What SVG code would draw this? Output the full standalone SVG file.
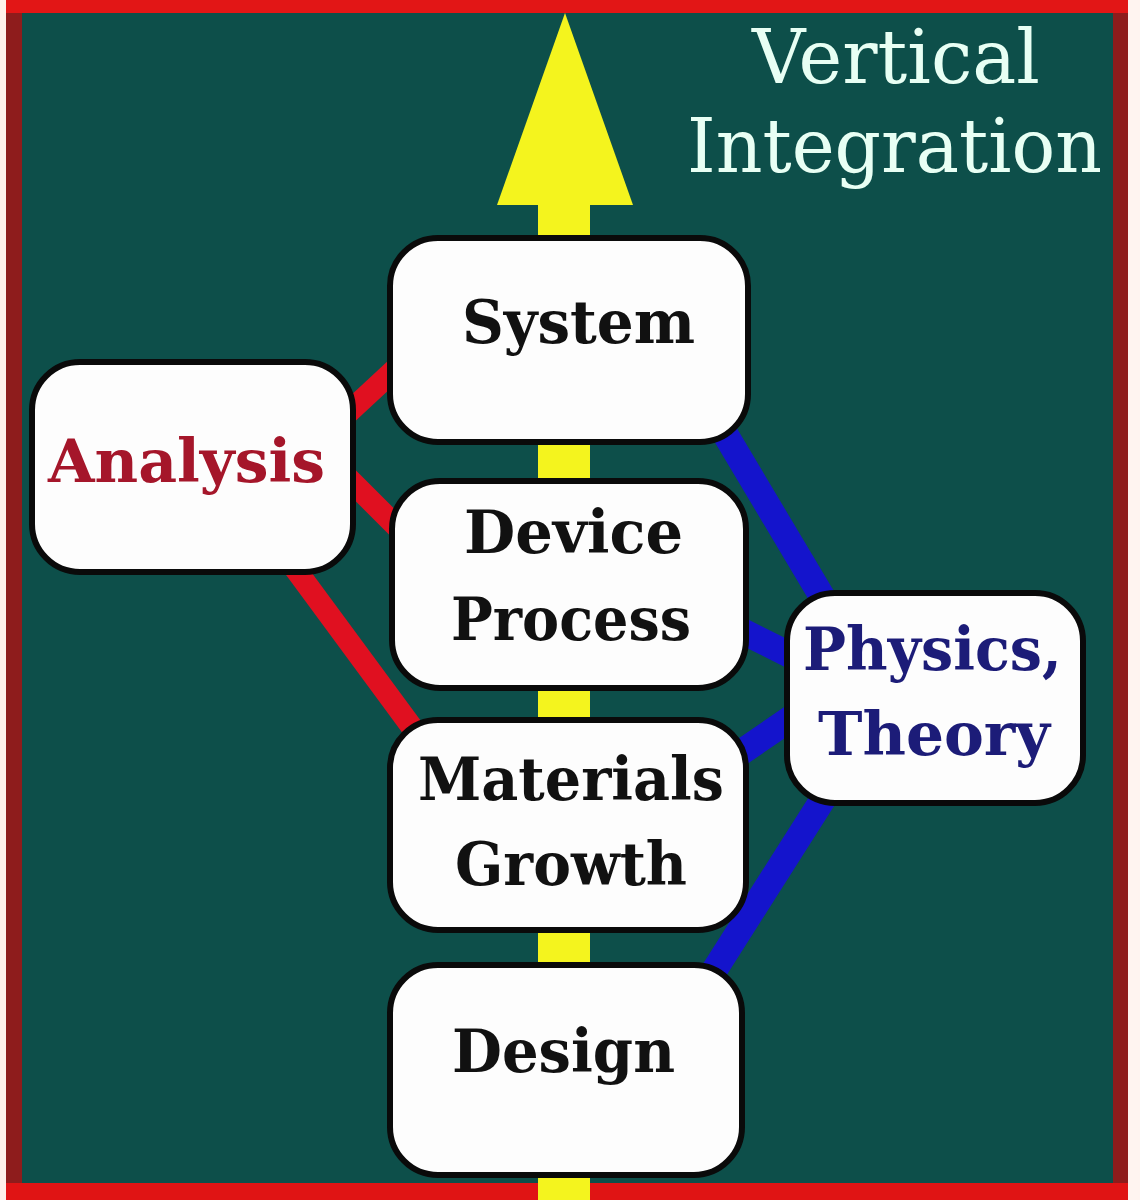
<svg xmlns="http://www.w3.org/2000/svg" width="1140" height="1200" viewBox="0 0 1140 1200">
<style>
.box{fill:#fdfdfd;stroke:#0a0a0a;stroke-width:6}
.t{font-family:"DejaVu Serif","Liberation Serif",serif;font-weight:bold;font-size:60px;fill:#111}
.title{font-family:"DejaVu Serif","Liberation Serif",serif;font-size:74px;fill:#e8fff4}
.red{stroke:#e01020;stroke-width:22;fill:none}
.blue{stroke:#1414cc;stroke-width:26;fill:none}
</style>
<rect x="0" y="0" width="1140" height="1200" fill="#0d4f4a"/>
<g id="frame">
<rect x="0" y="0" width="1140" height="13" fill="#e21616"/>
<rect x="0" y="1183" width="1140" height="17" fill="#e01414"/>
<rect x="0" y="0" width="6" height="1200" fill="#fff0ea"/>
<rect x="6" y="13" width="16" height="1170" fill="#8e1c1c"/>
<rect x="1113" y="13" width="15" height="1170" fill="#8e1c1c"/>
<rect x="1128" y="0" width="12" height="1200" fill="#fff4f0"/>
</g>
<g id="title">
<text class="title" x="752" y="83" textLength="288" lengthAdjust="spacingAndGlyphs">Vertical</text>
<text class="title" x="687" y="172" textLength="415" lengthAdjust="spacingAndGlyphs">Integration</text>
</g>
<g id="connectors">
<rect x="538" y="200" width="52" height="1000" fill="#f4f41e"/>
<polygon points="565,13 633,205 497,205" fill="#f4f41e"/>
<line class="red" x1="335" y1="425" x2="405" y2="360"/>
<line class="red" x1="340" y1="470" x2="410" y2="540"/>
<line class="red" x1="285" y1="555" x2="425" y2="745"/>
<line class="blue" x1="712" y1="412" x2="830" y2="610"/>
<line class="blue" x1="730" y1="625" x2="800" y2="660"/>
<line class="blue" x1="730" y1="760" x2="800" y2="712"/>
<line class="blue" x1="832" y1="785" x2="705" y2="985"/>
</g>
<g id="system">
<rect class="box" x="390" y="238" width="358" height="204" rx="48"/>
<text class="t" x="462" y="343" textLength="233" lengthAdjust="spacingAndGlyphs">System</text>
</g>
<g id="analysis">
<rect class="box" x="32" y="362" width="321" height="210" rx="48"/>
<text class="t" x="48" y="482" textLength="277" lengthAdjust="spacingAndGlyphs" style="fill:#a5162a">Analysis</text>
</g>
<g id="device">
<rect class="box" x="392" y="481" width="354" height="207" rx="48"/>
<text class="t" x="464" y="553" textLength="219" lengthAdjust="spacingAndGlyphs">Device</text>
<text class="t" x="451" y="640" textLength="240" lengthAdjust="spacingAndGlyphs">Process</text>
</g>
<g id="physics">
<rect class="box" x="787" y="593" width="296" height="210" rx="48"/>
<text class="t" x="803" y="670" textLength="259" lengthAdjust="spacingAndGlyphs" style="fill:#1c1c78">Physics,</text>
<text class="t" x="818" y="755" textLength="232" lengthAdjust="spacingAndGlyphs" style="fill:#1c1c78">Theory</text>
</g>
<g id="materials">
<rect class="box" x="390" y="720" width="356" height="210" rx="48"/>
<text class="t" x="418" y="800" textLength="306" lengthAdjust="spacingAndGlyphs">Materials</text>
<text class="t" x="455" y="885" textLength="232" lengthAdjust="spacingAndGlyphs">Growth</text>
</g>
<g id="design">
<rect class="box" x="390" y="965" width="352" height="210" rx="48"/>
<text class="t" x="452" y="1072" textLength="223" lengthAdjust="spacingAndGlyphs">Design</text>
</g>
</svg>
